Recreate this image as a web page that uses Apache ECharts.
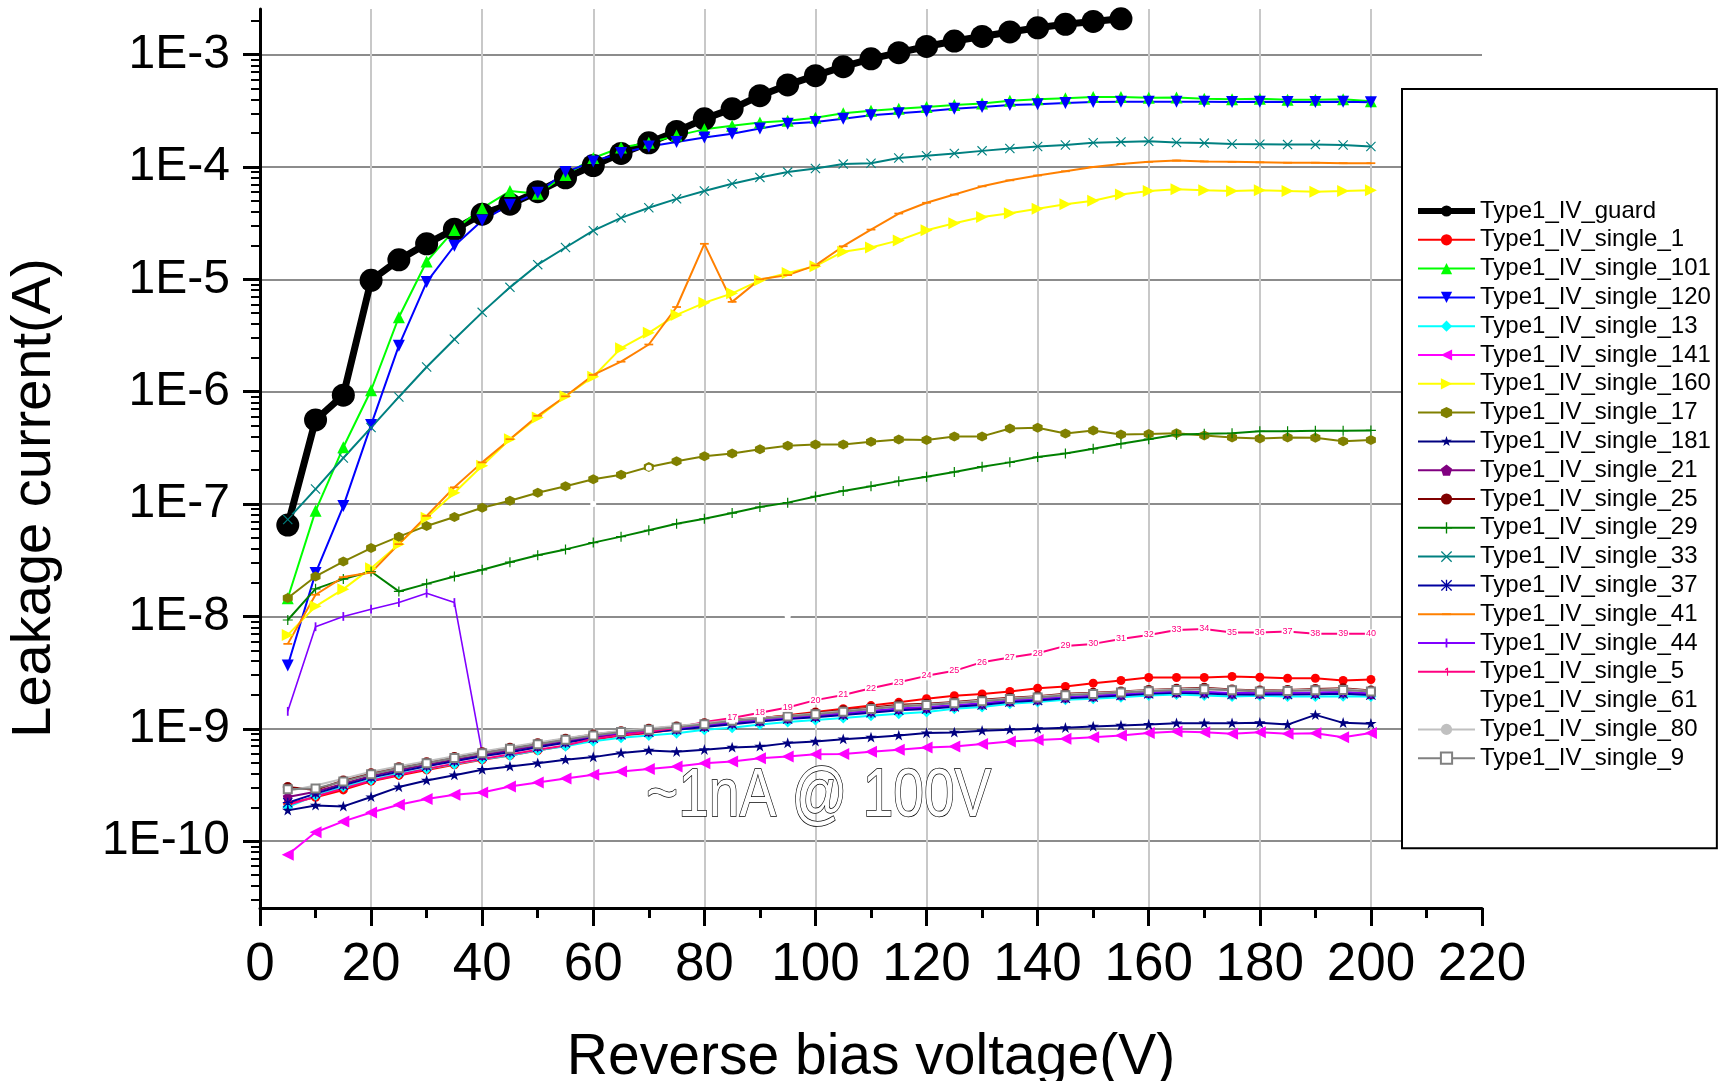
<!DOCTYPE html>
<html><head><meta charset="utf-8">
<script src="https://cdn.jsdelivr.net/npm/echarts@6/dist/echarts.min.js"></script>
<style>html,body{margin:0;padding:0;background:#fff}#c{width:1723px;height:1081px}</style>
</head><body><div id="c"></div>
<script>
// ---------- data ----------
const volts = [5,10,15,20,25,30,35,40,45,50,55,60,65,70,75,80,85,90,95,100,105,110,115,120,125,130,135,140,145,150,155,160,165,170,175,180,185,190,195,200];
const yMajorTicks = [1e-10,1e-9,1e-8,1e-7,1e-6,1e-5,1e-4,1e-3];
const xTickLabels = [0,20,40,60,80,100,120,140,160,180,200,220];

const guard = [6.5e-8,5.6e-7,9.3e-7,9.8e-6,1.49e-5,2.07e-5,2.79e-5,3.8e-5,4.66e-5,6.03e-5,8.0e-5,1.03e-4,1.32e-4,1.64e-4,2.07e-4,2.68e-4,3.29e-4,4.31e-4,5.37e-4,6.49e-4,7.8e-4,9.16e-4,1.04e-3,1.18e-3,1.32e-3,1.45e-3,1.59e-3,1.73e-3,1.86e-3,1.97e-3,2.08e-3];
const s1 = [2.15e-10,2.46e-10,2.86e-10,3.42e-10,3.85e-10,4.31e-10,4.79e-10,5.3e-10,5.79e-10,6.41e-10,7.05e-10,8.0e-10,8.7e-10,9.2e-10,9.9e-10,1.08e-9,1.17e-9,1.24e-9,1.32e-9,1.41e-9,1.51e-9,1.61e-9,1.72e-9,1.85e-9,1.97e-9,2.04e-9,2.15e-9,2.3e-9,2.38e-9,2.55e-9,2.69e-9,2.86e-9,2.86e-9,2.86e-9,2.92e-9,2.88e-9,2.82e-9,2.82e-9,2.69e-9,2.75e-9];
const s101 = [1.45e-8,8.7e-8,3.2e-7,1.03e-6,4.6e-6,1.44e-5,2.75e-5,4.3e-5,6.1e-5,5.76e-5,8.5e-5,1.2e-4,1.49e-4,1.64e-4,1.9e-4,2.16e-4,2.33e-4,2.49e-4,2.58e-4,2.74e-4,3.01e-4,3.17e-4,3.29e-4,3.41e-4,3.56e-4,3.67e-4,3.89e-4,4.0e-4,4.09e-4,4.19e-4,4.19e-4,4.12e-4,4.15e-4,4.05e-4,4.0e-4,4.05e-4,3.97e-4,3.97e-4,4.0e-4,3.84e-4];
const s120 = [3.66e-9,2.43e-8,9.6e-8,5.06e-7,2.57e-6,9.46e-6,1.99e-5,3.33e-5,4.62e-5,5.89e-5,9.0e-5,1.12e-4,1.33e-4,1.52e-4,1.67e-4,1.83e-4,1.97e-4,2.2e-4,2.42e-4,2.51e-4,2.68e-4,2.88e-4,3.01e-4,3.13e-4,3.29e-4,3.41e-4,3.56e-4,3.61e-4,3.7e-4,3.78e-4,3.8e-4,3.8e-4,3.8e-4,3.8e-4,3.79e-4,3.8e-4,3.79e-4,3.78e-4,3.8e-4,3.77e-4];
const s13 = [2.01e-10,2.55e-10,3.03e-10,3.51e-10,3.98e-10,4.4e-10,4.85e-10,5.35e-10,5.8e-10,6.45e-10,7.0e-10,7.77e-10,8.31e-10,8.72e-10,9.15e-10,9.8e-10,1.02e-9,1.09e-9,1.15e-9,1.2e-9,1.25e-9,1.31e-9,1.36e-9,1.41e-9,1.51e-9,1.56e-9,1.67e-9,1.73e-9,1.81e-9,1.85e-9,1.91e-9,1.98e-9,2.02e-9,1.98e-9,1.94e-9,1.97e-9,1.94e-9,1.94e-9,1.95e-9,1.94e-9];
const s141 = [7.57e-11,1.2e-10,1.5e-10,1.8e-10,2.11e-10,2.37e-10,2.59e-10,2.71e-10,3.07e-10,3.33e-10,3.61e-10,3.9e-10,4.17e-10,4.38e-10,4.62e-10,4.95e-10,5.12e-10,5.48e-10,5.67e-10,5.95e-10,5.98e-10,6.24e-10,6.5e-10,6.82e-10,6.96e-10,7.31e-10,7.7e-10,7.97e-10,8.15e-10,8.4e-10,8.72e-10,9.2e-10,9.47e-10,9.34e-10,9.03e-10,9.34e-10,9.03e-10,9.15e-10,8.4e-10,9.2e-10];
const s160 = [6.85e-9,1.23e-8,1.75e-8,2.69e-8,4.4e-8,7.55e-8,1.26e-7,2.19e-7,3.78e-7,5.9e-7,9.1e-7,1.36e-6,2.44e-6,3.34e-6,4.82e-6,6.18e-6,7.5e-6,9.8e-6,1.14e-5,1.31e-5,1.76e-5,1.92e-5,2.22e-5,2.73e-5,3.16e-5,3.58e-5,3.88e-5,4.24e-5,4.66e-5,5.0e-5,5.68e-5,6.1e-5,6.34e-5,6.2e-5,6.1e-5,6.2e-5,6.1e-5,6.03e-5,6.1e-5,6.2e-5];
const s17 = [1.46e-8,2.27e-8,3.08e-8,4.06e-8,5.13e-8,6.39e-8,7.67e-8,9.27e-8,1.07e-7,1.26e-7,1.44e-7,1.66e-7,1.82e-7,2.14e-7,2.4e-7,2.66e-7,2.82e-7,3.08e-7,3.31e-7,3.39e-7,3.39e-7,3.59e-7,3.76e-7,3.72e-7,4.0e-7,4.0e-7,4.71e-7,4.78e-7,4.25e-7,4.51e-7,4.16e-7,4.2e-7,4.26e-7,4.07e-7,3.92e-7,3.84e-7,3.92e-7,3.9e-7,3.62e-7,3.72e-7];
const s181 = [1.88e-10,2.08e-10,2.04e-10,2.47e-10,3.03e-10,3.47e-10,3.87e-10,4.32e-10,4.62e-10,4.95e-10,5.3e-10,5.6e-10,6.08e-10,6.41e-10,6.24e-10,6.5e-10,6.82e-10,6.96e-10,7.46e-10,7.71e-10,8.09e-10,8.37e-10,8.71e-10,9.16e-10,9.27e-10,9.6e-10,9.8e-10,1.0e-9,1.02e-9,1.05e-9,1.07e-9,1.09e-9,1.12e-9,1.12e-9,1.12e-9,1.13e-9,1.09e-9,1.33e-9,1.13e-9,1.11e-9];
const s21 = [2.47e-10,2.75e-10,3.25e-10,3.8e-10,4.3e-10,4.8e-10,5.3e-10,5.85e-10,6.4e-10,7.05e-10,7.7e-10,8.45e-10,9.05e-10,9.5e-10,1.0e-9,1.06e-9,1.13e-9,1.18e-9,1.24e-9,1.3e-9,1.36e-9,1.43e-9,1.5e-9,1.54e-9,1.6e-9,1.67e-9,1.76e-9,1.82e-9,1.9e-9,1.95e-9,2.01e-9,2.08e-9,2.12e-9,2.1e-9,2.06e-9,2.06e-9,2.06e-9,2.08e-9,2.1e-9,2.04e-9];
const s25 = [3.03e-10,2.86e-10,3.47e-10,4.03e-10,4.56e-10,5.05e-10,5.6e-10,6.2e-10,6.78e-10,7.45e-10,8.15e-10,8.9e-10,9.53e-10,1.0e-9,1.05e-9,1.12e-9,1.21e-9,1.25e-9,1.31e-9,1.38e-9,1.46e-9,1.54e-9,1.64e-9,1.67e-9,1.73e-9,1.81e-9,1.89e-9,1.95e-9,2.05e-9,2.09e-9,2.15e-9,2.22e-9,2.27e-9,2.32e-9,2.24e-9,2.19e-9,2.22e-9,2.26e-9,2.3e-9,2.19e-9];
const s29 = [9.3e-9,1.76e-8,2.15e-8,2.51e-8,1.67e-8,1.95e-8,2.27e-8,2.6e-8,3.04e-8,3.51e-8,3.95e-8,4.54e-8,5.13e-8,5.85e-8,6.68e-8,7.4e-8,8.32e-8,9.42e-8,1.03e-7,1.17e-7,1.31e-7,1.44e-7,1.6e-7,1.75e-7,1.93e-7,2.15e-7,2.35e-7,2.62e-7,2.82e-7,3.1e-7,3.44e-7,3.78e-7,4.13e-7,4.22e-7,4.27e-7,4.44e-7,4.45e-7,4.5e-7,4.5e-7,4.52e-7];
const s33 = [7.3e-8,1.36e-7,2.57e-7,4.79e-7,8.98e-7,1.66e-6,2.93e-6,5.08e-6,8.48e-6,1.35e-5,1.92e-5,2.71e-5,3.52e-5,4.33e-5,5.2e-5,6.1e-5,7.08e-5,8.07e-5,9.0e-5,9.68e-5,1.06e-4,1.08e-4,1.2e-4,1.26e-4,1.32e-4,1.39e-4,1.46e-4,1.52e-4,1.57e-4,1.64e-4,1.67e-4,1.69e-4,1.65e-4,1.63e-4,1.6e-4,1.59e-4,1.58e-4,1.58e-4,1.57e-4,1.52e-4];
const s37 = [2.2e-10,2.65e-10,3.15e-10,3.68e-10,4.15e-10,4.65e-10,5.15e-10,5.7e-10,6.2e-10,6.85e-10,7.5e-10,8.25e-10,8.85e-10,9.3e-10,9.8e-10,1.04e-9,1.1e-9,1.16e-9,1.22e-9,1.27e-9,1.33e-9,1.39e-9,1.46e-9,1.5e-9,1.57e-9,1.63e-9,1.73e-9,1.79e-9,1.87e-9,1.92e-9,1.98e-9,2.05e-9,2.09e-9,2.06e-9,2.02e-9,2.03e-9,2.02e-9,2.03e-9,2.05e-9,2.0e-9];
const s41 = [5.7e-9,1.56e-8,2.24e-8,2.46e-8,4.4e-8,7.85e-8,1.41e-7,2.35e-7,3.78e-7,6.1e-7,9.1e-7,1.41e-6,1.85e-6,2.63e-6,5.67e-6,2.07e-5,6.3e-6,1.0e-5,1.09e-5,1.33e-5,1.97e-5,2.77e-5,3.85e-5,4.8e-5,5.68e-5,6.72e-5,7.6e-5,8.4e-5,9.15e-5,1.0e-4,1.06e-4,1.11e-4,1.14e-4,1.12e-4,1.11e-4,1.1e-4,1.09e-4,1.09e-4,1.08e-4,1.08e-4];
const s44 = [1.43e-9,8.1e-9,1.0e-8,1.16e-8,1.33e-8,1.61e-8,1.33e-8,6.08e-10,6.6e-10,7.25e-10,7.9e-10,8.6e-10,9.2e-10,9.65e-10,1.01e-9,1.08e-9,1.15e-9,1.2e-9,1.26e-9,1.32e-9,1.38e-9,1.45e-9,1.52e-9,1.57e-9,1.63e-9,1.7e-9,1.79e-9,1.85e-9,1.93e-9,1.98e-9,2.04e-9,2.11e-9,2.15e-9,2.13e-9,2.09e-9,2.09e-9,2.09e-9,2.11e-9,2.13e-9,2.07e-9];
const s5 = [2.1e-10,2.5e-10,2.95e-10,3.45e-10,3.9e-10,4.4e-10,4.9e-10,5.4e-10,5.9e-10,6.5e-10,7.1e-10,8.15e-10,8.8e-10,9.4e-10,1.02e-9,1.15e-9,1.25e-9,1.39e-9,1.55e-9,1.8e-9,2.0e-9,2.3e-9,2.6e-9,2.96e-9,3.28e-9,3.92e-9,4.31e-9,4.71e-9,5.47e-9,5.7e-9,6.31e-9,6.85e-9,7.59e-9,7.75e-9,7.2e-9,7.2e-9,7.35e-9,7.0e-9,7.0e-9,7.0e-9];
const s61 = [null,null,null,null,null,null,null,null,null,null,null,1.0e-7,null,2.1e-7,null,null,null,null,1.0e-8,null,null,null,null,null,null,null,null,null,null,null,null,null,null,null,null,null,null,null,null,null];
const s80 = [2.8e-10,3.13e-10,3.6e-10,4.15e-10,4.65e-10,5.15e-10,5.7e-10,6.3e-10,6.9e-10,7.55e-10,8.25e-10,8.95e-10,9.6e-10,1.01e-9,1.06e-9,1.12e-9,1.2e-9,1.25e-9,1.3e-9,1.37e-9,1.44e-9,1.52e-9,1.6e-9,1.65e-9,1.71e-9,1.79e-9,1.86e-9,1.93e-9,2.02e-9,2.07e-9,2.13e-9,2.2e-9,2.25e-9,2.28e-9,2.22e-9,2.17e-9,2.2e-9,2.23e-9,2.26e-9,2.17e-9];
const s9 = [2.9e-10,2.95e-10,3.4e-10,3.95e-10,4.45e-10,4.95e-10,5.5e-10,6.05e-10,6.65e-10,7.3e-10,8.0e-10,8.7e-10,9.35e-10,9.8e-10,1.03e-9,1.1e-9,1.18e-9,1.23e-9,1.29e-9,1.35e-9,1.42e-9,1.5e-9,1.58e-9,1.63e-9,1.69e-9,1.76e-9,1.84e-9,1.9e-9,1.99e-9,2.04e-9,2.1e-9,2.16e-9,2.21e-9,2.25e-9,2.2e-9,2.15e-9,2.17e-9,2.2e-9,2.22e-9,2.15e-9];

// ---------- styling ----------
const FONT = '"Liberation Sans", Arial, Helvetica, sans-serif';
const Y_MIN = 2.544e-11, Y_MAX = 2.544e-3;
const yMinorTicks = [];
for (let e = -11; e <= -3; e++) for (let k = 2; k <= 9; k++) {
  const v = k * Math.pow(10, e);
  if (v > Y_MIN && v < Y_MAX) yMinorTicks.push(v);
}

// all path symbols have a square bounding box so they keep their shape in the legend too
const SYM = {
  star: 'path://M0,0 M100,100 M50,2 L61,36 L98,36 L68,57 L79,92 L50,71 L21,92 L32,57 L2,36 L39,36 Z',
  pentagon: 'path://M50,0 L100,38 L81,100 L19,100 L0,38 Z',
  plus: 'path://M44,0 H56 V44 H100 V56 H56 V100 H44 V56 H0 V44 H44 Z',
  cross: 'path://M0,8 L8,0 L50,42 L92,0 L100,8 L58,50 L100,92 L92,100 L50,58 L8,100 L0,92 L42,50 Z',
  aster: 'path://M44,0 H56 V44 H100 V56 H56 V100 H44 V56 H0 V44 H44 Z M0,8 L8,0 L50,42 L92,0 L100,8 L58,50 L100,92 L92,100 L50,58 L8,100 L0,92 L42,50 Z',
  dash: 'path://M0,0 M100,100 M10,42 H90 V58 H10 Z',
  bar: 'path://M0,0 M100,100 M42,10 H58 V90 H42 Z',
  one: 'path://M0,0 M100,100 M36,30 L54,14 H64 V86 H54 V30 L40,38 Z',
  hexagon: 'path://M50,0 L93,25 L93,75 L50,100 L7,75 L7,25 Z'
};

function mk(name, values, color, symbol, size, extra) {
  return Object.assign({
    name: name,
    type: 'line',
    data: values.map((v, i) => [volts[i], v]),
    symbol: symbol,
    symbolSize: size,
    showSymbol: true,
    lineStyle: { color: color, width: 2 },
    itemStyle: { color: color },
    emphasis: { disabled: true },
    connectNulls: false
  }, extra || {});
}

const series = [
  mk('Type1_IV_guard', guard, '#000000', 'circle', 23, { lineStyle: { color: '#000', width: 7 } }),
  mk('Type1_IV_single_1', s1, '#ff0000', 'circle', 9),
  mk('Type1_IV_single_101', s101, '#00ff00', 'triangle', 12),
  mk('Type1_IV_single_120', s120, '#0000ff', 'triangle', 12, { symbolRotate: 180 }),
  mk('Type1_IV_single_13', s13, '#00ffff', 'diamond', 11),
  mk('Type1_IV_single_141', s141, '#ff00ff', 'triangle', 12, { symbolRotate: 90 }),
  mk('Type1_IV_single_160', s160, '#ffff00', 'triangle', 12, { symbolRotate: -90 }),
  mk('Type1_IV_single_17', s17, '#808000', SYM.hexagon, 10),
  mk('Type1_IV_single_181', s181, '#000080', SYM.star, 12),
  mk('Type1_IV_single_21', s21, '#800080', SYM.pentagon, 10),
  mk('Type1_IV_single_25', s25, '#800000', 'circle', 10),
  mk('Type1_IV_single_29', s29, '#008000', SYM.plus, 10),
  mk('Type1_IV_single_33', s33, '#008080', SYM.cross, 10),
  mk('Type1_IV_single_37', s37, '#0000a0', SYM.aster, 10),
  mk('Type1_IV_single_41', s41, '#ff8000', SYM.dash, 11),
  mk('Type1_IV_single_44', s44, '#8000ff', SYM.bar, 11, { lineStyle: { color: '#8000ff', width: 1.6 } }),
  mk('Type1_IV_single_5', s5, '#ff0080', SYM.one, 1, {
    label: {
      show: true, position: 'inside', fontSize: 9, fontFamily: FONT, color: '#ff0080',
      backgroundColor: '#ffffff', padding: [0, 1, 0, 1],
      formatter: p => (p.dataIndex >= 16 ? String(p.dataIndex + 1) : '')
    }
  }),
  mk('Type1_IV_single_61', s61, '#ffffff', 'circle', 6),
  mk('Type1_IV_single_80', s80, '#c0c0c0', 'circle', 3),
  mk('Type1_IV_single_9', s9, '#808080', 'emptyRect', 8)
];

const legendData = series.map(s => s.name === 'Type1_IV_guard'
  ? { name: s.name, lineStyle: { width: 6 } }
  : { name: s.name });

const xSplitColors = xTickLabels.map((v, i) => (i === xTickLabels.length - 1 ? 'rgba(0,0,0,0)' : '#c8c8c8'));

const option = {
  animation: false,
  backgroundColor: '#ffffff',
  grid: { left: 260, right: 241, top: 9, bottom: 173, containLabel: false, outerBoundsMode: 'none' },
  xAxis: {
    type: 'value', min: 0, max: 220, interval: 20,
    name: 'Reverse bias voltage(V)', nameLocation: 'middle', nameGap: 122,
    nameTextStyle: { fontSize: 57, fontFamily: FONT, color: '#000' },
    axisLine: { onZero: false, lineStyle: { color: '#000', width: 3 } },
    axisTick: { show: true, length: 18, lineStyle: { color: '#000', width: 3 } },
    minorTick: { show: true, splitNumber: 2, length: 10, lineStyle: { color: '#000', width: 3 } },
    axisLabel: { fontSize: 53, fontFamily: FONT, color: '#000', margin: 31 },
    splitLine: { show: true, lineStyle: { color: xSplitColors, width: 2 } }
  },
  yAxis: [{
    type: 'log', logBase: 10, min: Y_MIN, max: Y_MAX, position: 'left',
    name: 'Leakage current(A)', nameLocation: 'middle', nameGap: 197,
    nameTextStyle: { fontSize: 56, fontFamily: FONT, color: '#000', padding: [0, 79, 0, 0] },
    axisLine: { onZero: false, lineStyle: { color: '#000', width: 3 } },
    axisTick: { show: true, length: 17, customValues: yMajorTicks, lineStyle: { color: '#000', width: 3 } },
    axisLabel: {
      customValues: yMajorTicks, fontSize: 48, fontFamily: FONT, color: '#000', margin: 30,
      formatter: v => '1E' + Math.round(Math.log10(v))
    },
    splitLine: { show: true, lineStyle: { color: '#8c8c8c', width: 2 } }
  }, {
    type: 'log', logBase: 10, min: Y_MIN, max: Y_MAX, position: 'left',
    axisLine: { show: false, onZero: false },
    axisTick: { show: true, length: 9, customValues: yMinorTicks, lineStyle: { color: '#000', width: 2 } },
    axisLabel: { show: false },
    splitLine: { show: false }
  }],
  legend: {
    orient: 'vertical', left: 1402, top: 89,
    padding: [110, 6, 78, 13],
    itemGap: 4.8, itemWidth: 57, itemHeight: 14,
    backgroundColor: '#ffffff', borderColor: '#000000', borderWidth: 2, borderRadius: 0,
    textStyle: { fontSize: 24, fontFamily: FONT, color: '#000', lineHeight: 24 },
    data: legendData,
    selectedMode: false
  },
  graphic: [{
    type: 'text', x: 646, y: 763, scaleX: 0.81, z: 10,
    style: {
      text: '~1nA @ 100V',
      font: '68px "Liberation Sans", Arial, sans-serif',
      fill: '#ffffff', stroke: '#000000', lineWidth: 1.5,
      verticalAlign: 'top', align: 'left'
    }
  }],
  series: series
};

const chart = echarts.init(document.getElementById('c'), null, { renderer: 'canvas', width: 1723, height: 1081 });
chart.setOption(option);
</script>
</body></html>
